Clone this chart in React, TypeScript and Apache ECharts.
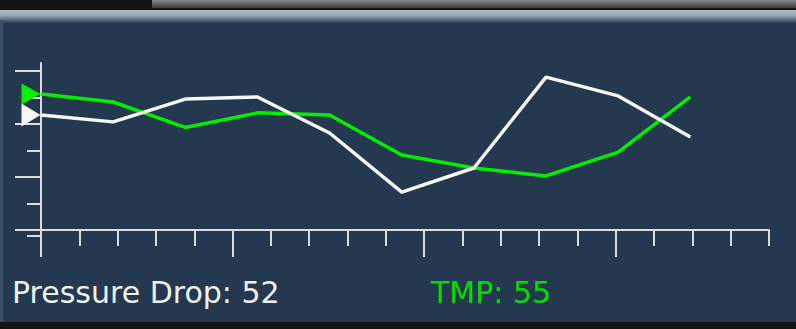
import React, { useEffect, useRef } from "react";
import * as echarts from "echarts";

// ---- data ----
const SAMPLE_INDEX = [0, 1, 2, 3, 4, 5, 6, 7, 8, 9];
const TMP = [51.3, 48.3, 38.7, 44.2, 43.4, 28.3, 23.4, 20.4, 29.4, 50.2];
const PRESSURE_DROP = [43.4, 40.8, 49.4, 50.2, 36.6, 14.3, 23.4, 57.7, 50.6, 35.1];
const Y_MAJOR_TICKS = [0, 20, 40, 60];
const Y_MINOR_TICKS = [10, 30, 50];
const X_MAJOR_TICKS = [0, 5, 10, 15];
const X_MINOR_TICKS = [1, 2, 3, 4, 6, 7, 8, 9, 11, 12, 13, 14, 16, 17, 18, 19];
const PRESSURE_DROP_READOUT = 52;
const TMP_READOUT = 55;

// ---- axis extents (layout) ----
const Y_MIN = -2.264;
const Y_MAX = 63.02;
const X_MIN = 0;
const X_MAX = 19;
const DATA_X_MAX = 10.09;

const AXIS_COLOR = "#dcdcdc";
const GREEN = "#00f000";
const WHITE = "#f6f6f6";
const FONT = '"DejaVu Sans", Verdana, sans-serif';

export default function App() {
  const ref = useRef<HTMLDivElement>(null);

  useEffect(() => {
    if (!ref.current) return;
    const chart = echarts.init(ref.current, undefined, { renderer: "svg" });

    const tickStyle = { color: AXIS_COLOR, width: 2 };

    const option: any = {
      animation: false,
      backgroundColor: "#24394f",
      graphic: [
        // top dark strip
        { type: "rect", shape: { x: 0, y: 0, width: 796, height: 10 }, style: { fill: "#141414" }, z: 0 },
        {
          type: "rect",
          shape: { x: 152, y: 0, width: 644, height: 8 },
          style: {
            fill: new echarts.graphic.LinearGradient(0, 0, 0, 1, [
              { offset: 0, color: "#8a8a8a" },
              { offset: 1, color: "#3a3a3a" },
            ]),
          },
          z: 0,
        },
        // bezel highlight
        {
          type: "rect",
          shape: { x: 0, y: 10, width: 796, height: 13 },
          style: {
            fill: new echarts.graphic.LinearGradient(0, 0, 0, 1, [
              { offset: 0, color: "#b2bec9" },
              { offset: 0.4, color: "#98a8b8" },
              { offset: 1, color: "#2a4058" },
            ]),
          },
          z: 0,
        },
        // left edge
        { type: "rect", shape: { x: 0, y: 20, width: 3, height: 302 }, style: { fill: "#3a5066" }, z: 0 },
        // bottom dark strip
        { type: "rect", shape: { x: 0, y: 322, width: 796, height: 7 }, style: { fill: "#141414" }, z: 0 },
        // readouts
        {
          type: "text",
          x: 12,
          y: 292,
          style: {
            text: `Pressure Drop: ${PRESSURE_DROP_READOUT}`,
            fill: "#f0f0f0",
            fontSize: 30,
            fontFamily: FONT,
            verticalAlign: "middle",
            align: "left",
          },
          z: 10,
        },
        {
          type: "text",
          x: 431,
          y: 292,
          style: {
            text: `TMP: ${TMP_READOUT}`,
            fill: "#00dd00",
            fontSize: 30,
            fontFamily: FONT,
            verticalAlign: "middle",
            align: "left",
          },
          z: 10,
        },
      ],
      grid: { left: 41, right: 27, top: 63, bottom: 93, containLabel: false },
      xAxis: [
        {
          type: "value",
          position: "bottom",
          min: X_MIN,
          max: X_MAX,
          axisLine: { show: true, lineStyle: tickStyle },
          axisTick: { show: true, length: 27, customValues: X_MAJOR_TICKS, lineStyle: tickStyle },
          axisLabel: { show: false },
          splitLine: { show: false },
        },
        {
          type: "value",
          position: "bottom",
          min: X_MIN,
          max: X_MAX,
          axisLine: { show: false },
          axisTick: { show: true, length: 16, customValues: X_MINOR_TICKS, lineStyle: tickStyle },
          axisLabel: { show: false },
          splitLine: { show: false },
        },
        {
          type: "value",
          show: false,
          min: 0,
          max: DATA_X_MAX,
          splitLine: { show: false },
        },
      ],
      yAxis: [
        {
          type: "value",
          position: "left",
          min: Y_MIN,
          max: Y_MAX,
          axisLine: { show: true, lineStyle: tickStyle },
          axisTick: { show: true, length: 26, customValues: Y_MAJOR_TICKS, lineStyle: tickStyle },
          axisLabel: { show: false },
          splitLine: { show: false },
        },
        {
          type: "value",
          position: "left",
          min: Y_MIN,
          max: Y_MAX,
          axisLine: { show: false },
          axisTick: { show: true, length: 14, customValues: [Y_MIN, ...Y_MINOR_TICKS], lineStyle: tickStyle },
          axisLabel: { show: false },
          splitLine: { show: false },
        },
      ],
      series: [
        {
          name: "TMP",
          type: "line",
          xAxisIndex: 2,
          yAxisIndex: 0,
          data: SAMPLE_INDEX.map((x, i) => [x, TMP[i]]),
          showSymbol: false,
          symbol: "none",
          lineStyle: { color: GREEN, width: 3.5 },
          z: 3,
        },
        {
          name: "Pressure Drop",
          type: "line",
          xAxisIndex: 2,
          yAxisIndex: 0,
          data: SAMPLE_INDEX.map((x, i) => [x, PRESSURE_DROP[i]]),
          showSymbol: false,
          symbol: "none",
          lineStyle: { color: WHITE, width: 3.5 },
          z: 4,
        },
        {
          name: "TMP marker",
          type: "scatter",
          xAxisIndex: 2,
          yAxisIndex: 0,
          clip: false,
          data: [[SAMPLE_INDEX[0], TMP[0]]],
          symbol: "triangle",
          symbolSize: [21, 19],
          symbolRotate: -90,
          symbolOffset: [-10, 0],
          itemStyle: { color: GREEN, opacity: 1 },
          z: 5,
        },
        {
          name: "Pressure Drop marker",
          type: "scatter",
          xAxisIndex: 2,
          yAxisIndex: 0,
          clip: false,
          data: [[SAMPLE_INDEX[0], PRESSURE_DROP[0]]],
          symbol: "triangle",
          symbolSize: [23, 19],
          symbolRotate: -90,
          symbolOffset: [-10, 0],
          itemStyle: { color: WHITE, opacity: 1 },
          z: 5,
        },
      ],
    };

    chart.setOption(option);
    return () => chart.dispose();
  }, []);

  return (
    <div
      ref={ref}
      style={{ position: "fixed", left: 0, top: 0, width: 796, height: 329 }}
    />
  );
}
